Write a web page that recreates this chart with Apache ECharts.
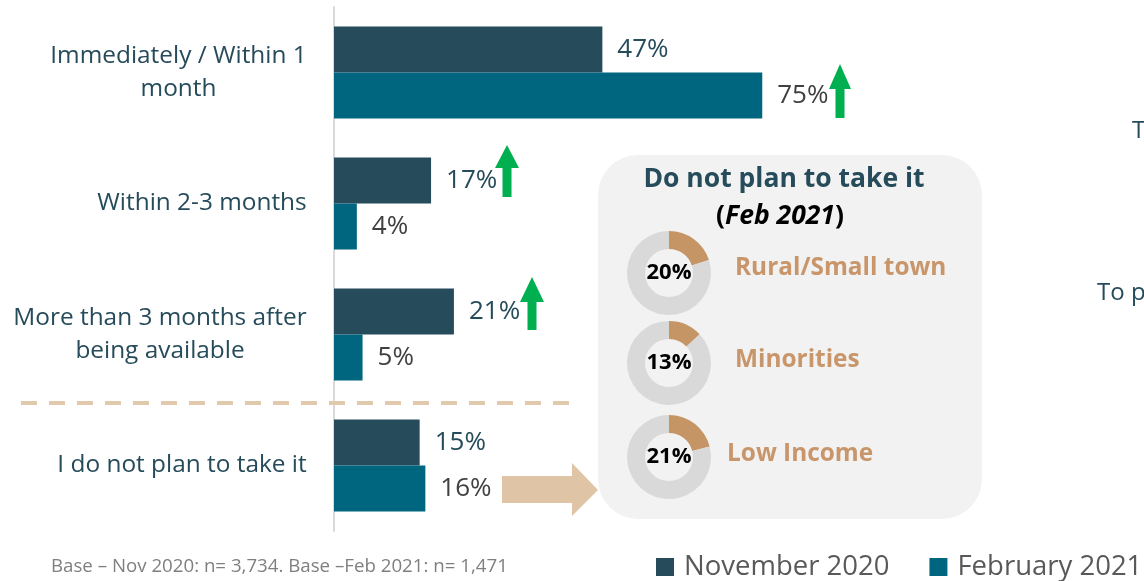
<!DOCTYPE html>
<html lang="en">
  <head>
    <meta charset="UTF-8" />
    <title>Vaccine timing</title>
    <script src="https://cdn.jsdelivr.net/npm/echarts@6/dist/echarts.min.js"></script>
    <style>
      body {
        margin: 0;
        overflow: hidden;
        background: #fff;
      }
      #main {
        width: 1144px;
        height: 581px;
      }
    </style>
  </head>
  <body>
    <div id="main"></div>
    <script type="text/javascript">
      const categories = [
        "Immediately / Within 1\nmonth",
        "Within 2-3 months",
        "More than 3 months after\nbeing available",
        "I do not plan to take it",
      ]
      const seriesNames = ["November 2020", "February 2021"]
      const nov2020 = [47, 17, 21, 15]
      const feb2021 = [75, 4, 5, 16]

      const donutNames = ["Rural/Small town", "Minorities", "Low Income"]
      const donutValues = [20, 13, 21]

      const FONT = '"Open Sans", sans-serif'
      const DARK = "#264b5a"
      const TEAL = "#006680"
      const TAN = "#c59565"
      const CAT_SIZE = 24.4

      var chart = echarts.init(document.getElementById("main"))

      // centred lines inside a right aligned block: measure the widest line
      const ctx = document.createElement("canvas").getContext("2d")
      ctx.font = CAT_SIZE + "px " + FONT
      const rich = {}
      categories.forEach((c, i) => {
        const w = Math.max(...c.split("\n").map(l => ctx.measureText(l).width))
        rich["c" + i] = {
          width: Math.ceil(w),
          align: "center",
          fontSize: CAT_SIZE,
          lineHeight: 33,
          color: DARK,
          fontFamily: FONT,
        }
      })

      function upArrow(cx, top, base, bottom, headW, shaftW) {
        return {
          type: "polygon",
          z: 5,
          shape: {
            points: [
              [cx, top],
              [cx + headW / 2, base],
              [cx + shaftW / 2, base],
              [cx + shaftW / 2, bottom],
              [cx - shaftW / 2, bottom],
              [cx - shaftW / 2, base],
              [cx - headW / 2, base],
            ],
          },
          style: { fill: "#00b050" },
        }
      }

      const donutCenters = [
        [669, 273],
        [669, 363],
        [669, 457],
      ]
      const donutLabelPos = [
        [735, 268],
        [735, 360],
        [727, 454],
      ]

      const pies = donutValues.map((v, i) => ({
        type: "pie",
        center: donutCenters[i],
        radius: [24, 42],
        startAngle: 90,
        clockwise: true,
        silent: true,
        z: 3,
        labelLine: { show: false },
        data: [
          {
            value: v,
            name: donutNames[i],
            itemStyle: { color: TAN },
            label: {
              show: true,
              position: "center",
              formatter: "{c}%",
              fontSize: 22,
              fontWeight: "bold",
              color: "#000",
              fontFamily: FONT,
            },
          },
          {
            value: 100 - v,
            name: "other",
            itemStyle: { color: "#d9d9d9" },
            label: { show: false },
          },
        ],
      }))

      const option = {
        animation: false,
        grid: { left: 334, top: 7, width: 571, height: 524 },
        legend: {
          data: seriesNames,
          left: 656,
          top: 551,
          width: 600,
          padding: 0,
          icon: "rect",
          itemWidth: 18,
          itemHeight: 18,
          itemGap: 40,
          selectedMode: false,
          textStyle: {
            fontSize: 27.5,
            color: "#595959",
            fontFamily: FONT,
            padding: [0, 0, 0, 5],
            lineHeight: 32,
          },
        },
        xAxis: { type: "value", min: 0, max: 100, show: false },
        yAxis: {
          type: "category",
          inverse: true,
          data: categories,
          axisTick: { show: false },
          axisLine: { lineStyle: { color: "#d9d9d9", width: 2 } },
          axisLabel: {
            margin: 27,
            formatter: (value, index) =>
              value
                .split("\n")
                .map(l => `{c${index}|${l}}`)
                .join("\n"),
            rich: rich,
          },
        },
        series: [
          {
            name: seriesNames[0],
            type: "bar",
            data: nov2020,
            barWidth: 46,
            barGap: "0%",
            itemStyle: { color: DARK },
            silent: true,
            label: {
              show: true,
              position: "right",
              distance: 15,
              formatter: "{c}%",
              fontSize: 26,
              color: DARK,
              fontFamily: FONT,
            },
          },
          {
            name: seriesNames[1],
            type: "bar",
            data: feb2021,
            barWidth: 46,
            itemStyle: { color: TEAL },
            silent: true,
            label: {
              show: true,
              position: "right",
              distance: 15,
              formatter: "{c}%",
              fontSize: 26,
              color: "#404040",
              fontFamily: FONT,
            },
          },
          ...pies,
        ],
        graphic: [
          {
            type: "rect",
            z: 0,
            shape: { x: 598, y: 155, width: 384, height: 364, r: 40 },
            style: { fill: "#f2f2f2" },
          },
          {
            type: "line",
            z: 1,
            shape: { x1: 21, y1: 403, x2: 578, y2: 403 },
            style: { stroke: "#e2c8ad", lineWidth: 4, lineDash: [16, 12] },
          },
          {
            type: "polygon",
            z: 1,
            shape: {
              points: [
                [502, 476],
                [572, 476],
                [572, 463],
                [598, 490],
                [572, 516],
                [572, 503],
                [502, 503],
              ],
            },
            style: { fill: "#e0c4a6" },
          },
          upArrow(840, 64, 89, 118, 22, 9),
          upArrow(507, 145, 168, 197, 24, 9),
          upArrow(532, 277, 302, 330, 24, 9),
          {
            type: "text",
            z: 10,
            x: 784,
            y: 179,
            style: {
              text: "Do not plan to take it",
              fontSize: 26.5,
              fontWeight: "bold",
              fill: DARK,
              fontFamily: FONT,
              align: "center",
              verticalAlign: "middle",
            },
          },
          {
            type: "text",
            z: 10,
            x: 780,
            y: 216,
            style: {
              text: "{n|(}{i|Feb 2021}{n|)}",
              align: "center",
              verticalAlign: "middle",
              rich: {
                n: { fontSize: 26.5, fontWeight: "bold", color: DARK, fontFamily: FONT },
                i: {
                  fontSize: 26.5,
                  fontWeight: "bold",
                  fontStyle: "italic",
                  color: DARK,
                  fontFamily: FONT,
                },
              },
            },
          },
          ...donutNames.map((n, i) => ({
            type: "text",
            z: 10,
            x: donutLabelPos[i][0],
            y: donutLabelPos[i][1],
            style: {
              text: n,
              fontSize: 24.4,
              fontWeight: "bold",
              fill: "#c8966a",
              fontFamily: FONT,
              verticalAlign: "middle",
            },
          })),
          {
            type: "text",
            z: 10,
            x: 51,
            y: 567,
            style: {
              text: "Base \u2013 Nov 2020: n= 3,734. Base \u2013Feb 2021: n= 1,471",
              fontSize: 18.7,
              fill: "#7f7f7f",
              fontFamily: FONT,
              verticalAlign: "middle",
            },
          },
          {
            type: "text",
            z: 10,
            x: 1132,
            y: 131,
            style: { text: "T", fontSize: 24, fill: DARK, fontFamily: FONT, verticalAlign: "middle" },
          },
          {
            type: "text",
            z: 10,
            x: 1097,
            y: 293,
            style: { text: "To p", fontSize: 24, fill: DARK, fontFamily: FONT, verticalAlign: "middle" },
          },
        ],
      }

      chart.setOption(option)
    </script>
  </body>
</html>
